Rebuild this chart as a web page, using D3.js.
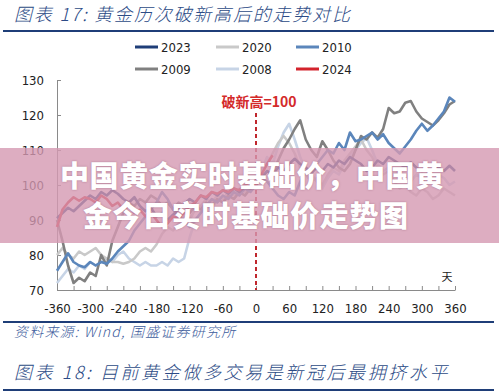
<!DOCTYPE html>
<html><head><meta charset="utf-8">
<script src="https://cdn.jsdelivr.net/npm/d3@7"></script>
<style>
html,body{margin:0;padding:0;background:#fff;}
svg{display:block;}
</style></head>
<body>
<svg id="c" width="499" height="392"></svg>
<script>
const days = [-360,-350,-340,-330,-320,-310,-300,-290,-280,-270,-260,-250,-240,-230,-220,-210,-200,-190,-180,-170,-160,-150,-140,-130,-120,-110,-100,-90,-80,-70,-60,-50,-40,-30,-20,-10,0,10,20,30,40,50,60,70,80,90,100,110,120,130,140,150,160,170,180,190,200,210,220,230,240,250,260,270,280,290,300,310,320,330,340,350,360];

const s2008 = [72,74,76,75,77,76,78,77,78,79,78,80,81,79,78,77,78,77,77,78,77,79,78,79,85,90,92,94,93,96,95,97,96,98,97,99,100,104,108,106,111,115,117.5,113,108,104,103,101,99,102,104,103,106,108,110,112,113.5,110,106,104,105,103,104,102,101,103,102,100,101,103,102,100,101];
const s2020 = [80,82,80,79,81,80,81,82,80,79,78,78,77.5,78,79,81,82,81,83,86,88,87,89,91,90,93,94,96,95,97,96,98,97,99,98,99,100,103,106,109,112,114,112,109,105,103,101,102,100,103,105,104,107,109,111,113,110,108,105,103,104,101,99,100,98,97,99,98,96,97,99,98,97];
const s2009 = [90,84,77,72,73.5,72.5,75,74,80,77,84,88,92,95,94,96,95,97,96,94,95,93,95,94,92,94,93,95,94,96,95,97,96,98,97,99,100,102,104,103,107,110.5,113,116,118.5,113,110,108,112.5,110,107,105,104,106,110,114,113,115,113.5,116,122,120.5,121,123.5,124,121,119,118,117,118.5,120.5,123,124];
const s2010 = [75.5,78,80.5,78,77,76.5,78,77,78,77.5,79,81,82.5,84,87,89,91,93,95,98,96,93,91,90,88,90,92,94,96,95,97,96,98,97,99,98,100,102,101,99,97,96,98,97,101,104,103,106,108,110,109,112,110,115,112.5,113,114,115,113,114.5,112,110.5,109,111,113,115.5,117.5,115.5,117,119,121,125,123.8];
const s2023 = [90.5,92,93.5,92.5,94,95.5,97,96,98,97,98.5,97.5,96,95,96.5,94,92.5,93.5,91,92,90,91.5,93,94.5,96,95,97,96,98,97,98.5,97.5,99,98,99.5,99,100,102,104,103,105,104,106,107.5,106,105,103.5,105,104,106,105,107,106,108,107,106,104,105,107,106,108,107,106,105,106.5,105,104,105.5,106,105,104,105.5,104];
const s2024 = [88,93,95,96.5,95.5,96.5,96,95,97,96,94,95,93,94,92,93,91,92,90,88,89,91,90.5,92,94,95,97,96.5,98,97.5,98.5,98,99,98.5,100,101,100,103,106,108.5,null,null,null,null,null,null,null,null,null,null,null,null,null,null,null,null,null,null,null,null,null,null,null,null,null,null,null,null,null,null,null,null,null];

const seriesNames = ["2023","2020","2010","2009","2008","2024"];
const seriesColors = ["#1f3e78","#c9c9c9","#5b86bb","#808080","#c7d4e6","#d3232c"];
const seriesData = {"2008":s2008,"2020":s2020,"2009":s2009,"2010":s2010,"2023":s2023,"2024":s2024};
const drawOrder = ["2008","2020","2009","2010","2023","2024"];

const yTicks = [70,80,90,100,110,120,130];
const xLabelTicks = [-360,-300,-240,-180,-120,-60,0,60,120,180,240,300,360];
const xMinorTicks = [-360,-330,-300,-270,-240,-210,-180,-150,-120,-90,-60,-30,0,30,60,90,120,150,180,210,240,270,300,330,360];

const svg = d3.select("#c");
const numFont = "'DejaVu Sans Condensed','DejaVu Sans',sans-serif";
const cjk = "'Noto Sans CJK SC','Noto Sans',sans-serif";

const x = d3.scaleLinear().domain([-360,360]).range([57,455]);
const y = d3.scaleLinear().domain([70,130]).range([290,80]);

// title
svg.append("text").attr("x",14).attr("y",21).attr("font-family",cjk).attr("font-size",18)
  .attr("font-style","italic").attr("font-weight",300).attr("fill","#2c4b86").attr("letter-spacing",1.8)
  .text("图表 17:  黄金历次破新高后的走势对比");
svg.append("line").attr("x1",3).attr("x2",494).attr("y1",31).attr("y2",31).attr("stroke","#1f3e78").attr("stroke-width",2);

// legend
const colX = [135,216,296];
const rowY = [47,69];
seriesNames.forEach((n,i)=>{
  const cx = colX[i%3], cy = rowY[Math.floor(i/3)];
  svg.append("line").attr("x1",cx).attr("x2",cx+23).attr("y1",cy).attr("y2",cy)
    .attr("stroke",seriesColors[i]).attr("stroke-width",3);
  svg.append("text").attr("x",cx+26).attr("y",cy+5).attr("font-family",numFont)
    .attr("font-size",13).attr("fill","#222").text(n);
});

// axes
const gx = svg.append("g").attr("transform","translate(0,290)")
  .call(d3.axisBottom(x).tickValues(xMinorTicks).tickSizeInner(-4).tickSizeOuter(0).tickPadding(14)
    .tickFormat(d => xLabelTicks.includes(d) ? d : ""));
const gy = svg.append("g").attr("transform","translate(57,0)")
  .call(d3.axisLeft(y).tickValues(yTicks).tickSizeInner(-4).tickSizeOuter(0).tickPadding(13));
[gx,gy].forEach(g=>{
  g.select(".domain").attr("stroke","#8a8a8a");
  g.selectAll(".tick line").attr("stroke","#8a8a8a");
  g.selectAll("text").attr("font-family",numFont).attr("font-size",13).attr("fill","#222");
});

// red dashed line
svg.append("line").attr("x1",x(0)).attr("x2",x(0)).attr("y1",113).attr("y2",290)
  .attr("stroke","#c0272d").attr("stroke-width",2).attr("stroke-dasharray","4,3");
svg.append("text").attr("x",x(0)+3).attr("y",107).attr("text-anchor","middle")
  .attr("font-family",cjk).attr("font-size",14).attr("font-weight","bold").attr("fill","#d42a2a")
  .text("破新高=100");

// lines
const line = d3.line().defined(d=>d[1]!=null).x(d=>x(d[0])).y(d=>y(d[1]));
drawOrder.forEach(n=>{
  const i = seriesNames.indexOf(n);
  const pts = days.map((d,k)=>[d, seriesData[n][k]]);
  svg.append("path").datum(pts).attr("d",line).attr("fill","none")
    .attr("stroke",seriesColors[i]).attr("stroke-width",2.6).attr("stroke-linejoin","round");
});

svg.append("text").attr("x",447).attr("y",281).attr("text-anchor","middle").attr("font-family",cjk)
  .attr("font-size",11).attr("fill","#222").text("天");

// source
svg.append("line").attr("x1",3).attr("x2",494).attr("y1",322).attr("y2",322).attr("stroke","#1f3e78").attr("stroke-width",2);
svg.append("text").attr("x",14).attr("y",337).attr("font-family",cjk).attr("font-size",14)
  .attr("font-style","italic").attr("font-weight",300).attr("fill","#3d5c9c").attr("letter-spacing",1.2)
  .text("资料来源: Wind, 国盛证券研究所");

// next title
svg.append("text").attr("x",14).attr("y",379).attr("font-family",cjk).attr("font-size",18)
  .attr("font-style","italic").attr("font-weight",300).attr("fill","#2c4b86").attr("letter-spacing",2.6)
  .text("图表 18:  目前黄金做多交易是新冠后最拥挤水平");
svg.append("line").attr("x1",3).attr("x2",494).attr("y1",390).attr("y2",390).attr("stroke","#1f3e78").attr("stroke-width",2);

// overlay banner
svg.append("rect").attr("x",0).attr("y",148).attr("width",499).attr("height",95)
  .attr("fill","rgb(212,152,178)").attr("fill-opacity",0.8);
const banner = ["中国黄金实时基础价，中国黄","金今日实时基础价走势图"];
const bx = [60,83], by = [187,227];
banner.forEach((t,i)=>{
  svg.append("text").attr("x",bx[i]).attr("y",by[i]).attr("font-family",cjk).attr("font-size",29)
    .attr("font-weight",900).attr("fill","#fff").attr("letter-spacing",0.6)
    .style("text-shadow","0 0 2px rgba(120,60,90,0.5)").text(t);
});
</script>
</body></html>
